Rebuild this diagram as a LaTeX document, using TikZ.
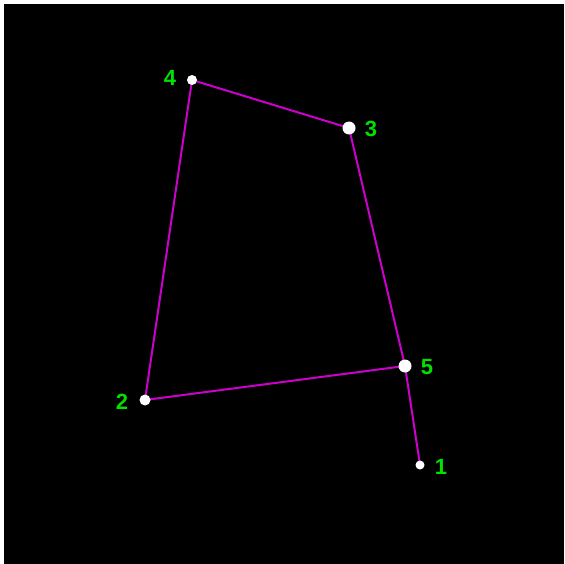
\documentclass[tikz,border=0pt]{standalone}
\usepackage{fontspec}
\setmainfont{Liberation Sans}
\definecolor{edgecol}{RGB}{204,0,204}
\definecolor{labcol}{RGB}{0,225,0}
\begin{document}
\begin{tikzpicture}[x=1pt,y=-1pt,
  edge/.style={draw=edgecol,line width=2pt},
  vtx/.style={circle,fill=white,inner sep=0pt},
  lab/.style={text=labcol,font=\fontsize{22}{22}\selectfont\bfseries,inner sep=0pt}]
\fill[white] (0,0) rectangle (564,564);
\fill[black] (4,4) rectangle (564,564);
\useasboundingbox (0,0) rectangle (564,564);
\coordinate (p1) at (420,465);
\coordinate (p2) at (145,400);
\coordinate (p3) at (349,128);
\coordinate (p4) at (192,80);
\coordinate (p5) at (405,366);
\draw[edge] (p4) -- (p3) -- (p5) -- (p1);
\draw[edge] (p5) -- (p2) -- (p4);
\node[vtx,minimum size=9pt] (v1) at (p1) {};
\node[vtx,minimum size=11pt] (v2) at (p2) {};
\node[vtx,minimum size=13pt] (v3) at (p3) {};
\node[vtx,minimum size=10pt] (v4) at (p4) {};
\node[vtx,minimum size=13pt] (v5) at (p5) {};
\node[lab] (l1) at (441,467) {1};
\node[lab] (l2) at (122,402) {2};
\node[lab] (l3) at (371,129) {3};
\node[lab] (l4) at (170,78) {4};
\node[lab] (l5) at (427,367) {5};
\end{tikzpicture}
\end{document}
